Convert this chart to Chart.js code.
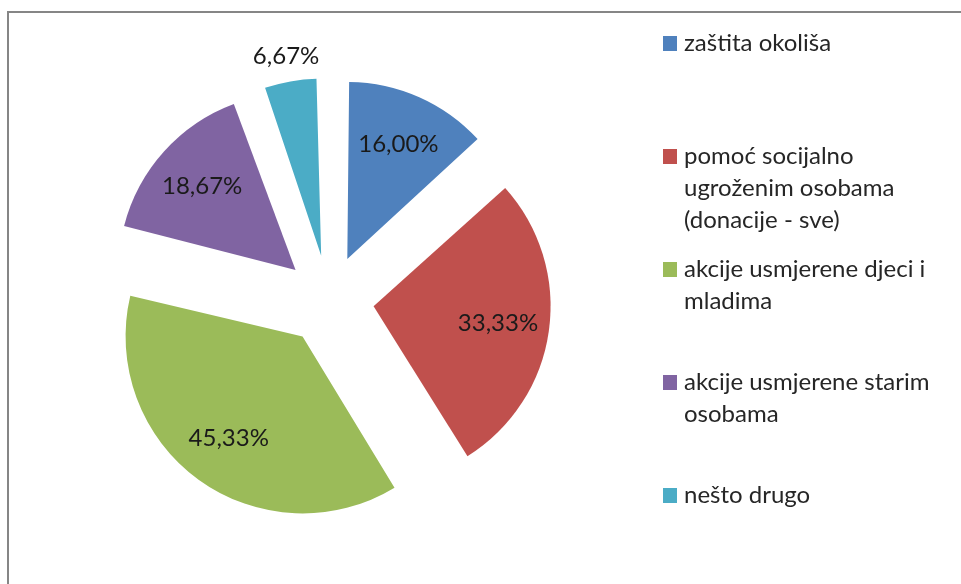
<!DOCTYPE html>
<html>
<head>
<meta charset="utf-8">
<script src="https://cdn.jsdelivr.net/npm/chart.js@4/dist/chart.umd.min.js"></script>
<style>
  body { margin: 0; background: #fff; }
  #wrap { position: relative; width: 961px; height: 584px; overflow: hidden; }
  #frame { position: absolute; left: 7px; top: 11px; width: 1000px; height: 700px;
           border-top: 2px solid #868686; border-left: 2px solid #868686; }
  canvas { position: absolute; left: 0; top: 0; }
</style>
</head>
<body>
<div id="wrap">
  <div id="frame"></div>
  <canvas id="pie" width="961" height="584"></canvas>
</div>
<script>
let categories = ["zaštita okoliša", "pomoć socijalno ugroženim osobama (donacije - sve)",
    "akcije usmjerene djeci i mladima", "akcije usmjerene starim osobama", "nešto drugo"];
let shares = [16.00, 33.33, 45.33, 18.67, 6.67];
let colors = ["#4F81BD", "#C0504D", "#9BBB59", "#8064A2", "#4BACC6"];

const explode = 180;  // chart.js moves each arc by offset/4
const pieRadius = 177;
const labelFont = "24px Lato";

// chart.js grows offset arcs a bit, take that back so all slices keep one radius
const keepRadius = {
    id: 'keepRadius',
    beforeDatasetsDraw(chart) {
        const meta = chart.getDatasetMeta(0);
        meta.data.forEach(function(arc) {
            const circ = arc.endAngle - arc.startAngle;
            const fix = 1 - Math.sin(Math.min(Math.PI, circ));
            arc.outerRadius = meta.controller.outerRadius - (explode / 4) * fix;
        });
    }
};

const sliceLabels = {
    id: 'sliceLabels',
    afterDatasetsDraw(chart) {
        const ctx = chart.ctx;
        const meta = chart.getDatasetMeta(0);
        const R = meta.controller.outerRadius;
        ctx.save();
        ctx.font = labelFont;
        ctx.fillStyle = "#1a1a1a";
        ctx.textAlign = "center";
        ctx.textBaseline = "middle";
        meta.data.forEach(function(arc, i) {
            const mid = (arc.startAngle + arc.endAngle) / 2;
            const small = (arc.endAngle - arc.startAngle) < 0.5;
            const dist = explode / 4 + (small ? R + 25 : R * 0.71);
            const x = arc.x + Math.cos(mid) * dist;
            const y = arc.y + Math.sin(mid) * dist;
            ctx.fillText(shares[i].toFixed(2).replace('.', ',') + '%', x, y);
        });
        ctx.restore();
    }
};

function wrapText(ctx, text, maxW) {
    let lines = [];
    let cur = "";
    text.split(" ").forEach(function(w) {
        let test = cur ? cur + " " + w : w;
        if (cur && ctx.measureText(test).width > maxW) {
            lines.push(cur);
            cur = w;
        } else {
            cur = test;
        }
    });
    lines.push(cur);
    return lines;
}

const sideLegend = {
    id: 'sideLegend',
    afterDraw(chart) {
        const ctx = chart.ctx;
        ctx.save();
        ctx.font = labelFont;
        ctx.textBaseline = "alphabetic";
        chart.data.labels.forEach(function(lab, i) {
            const base = 51 + 113 * i;
            ctx.fillStyle = colors[i];
            ctx.fillRect(663, base - 15, 14, 15);
            ctx.fillStyle = "#262626";
            wrapText(ctx, lab, 265).forEach(function(line, k) {
                ctx.fillText(line, 684, base + 32 * k);
            });
        });
        ctx.restore();
    }
};

var ctx = document.getElementById('pie').getContext('2d');

var pieChart = new Chart(ctx, {
    type: 'pie',
    data: {
        labels: categories,
        datasets: [{
            data: shares,
            backgroundColor: colors,
            borderWidth: 0,
            offset: explode
        }]
    },
    options: {
        responsive: false,
        animation: false,
        radius: pieRadius,
        layout: {
            padding: { left: 0, right: 961 - 2 * 329, top: 16, bottom: 0 }
        },
        plugins: {
            legend: { display: false },
            tooltip: { enabled: false }
        }
    },
    plugins: [keepRadius, sliceLabels, sideLegend]
});
</script>
</body>
</html>
